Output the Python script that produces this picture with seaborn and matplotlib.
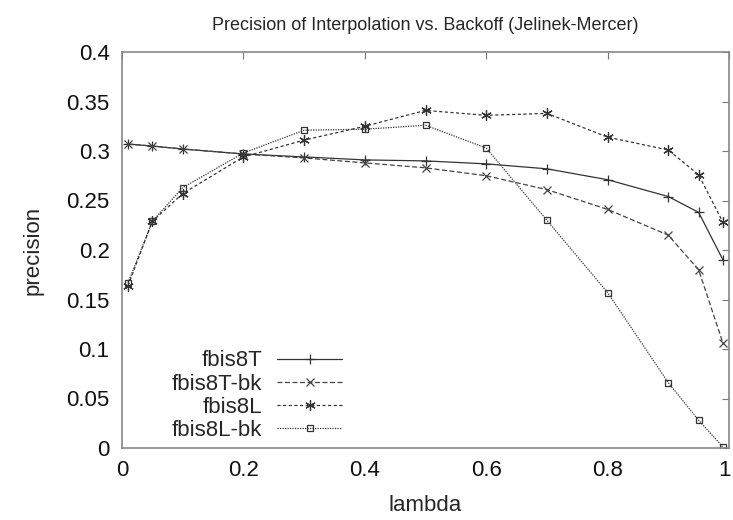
import matplotlib
matplotlib.use("Agg")
import matplotlib.pyplot as plt
import matplotlib.transforms as mtransforms
import seaborn as sns
import pandas as pd

lam = [0.01, 0.05, 0.1, 0.2, 0.3, 0.4, 0.5, 0.6, 0.7, 0.8, 0.9, 0.95, 0.99]
fbis8T = [0.307, 0.305, 0.302, 0.297, 0.294, 0.291, 0.290, 0.287, 0.282, 0.271, 0.254, 0.238, 0.190]
fbis8T_bk = [0.307, 0.305, 0.302, 0.297, 0.293, 0.288, 0.283, 0.275, 0.261, 0.241, 0.215, 0.180, 0.106]
fbis8L = [0.164, 0.229, 0.257, 0.294, 0.311, 0.325, 0.341, 0.336, 0.338, 0.314, 0.301, 0.276, 0.228]
fbis8L_bk = [0.167, 0.229, 0.263, 0.298, 0.321, 0.322, 0.326, 0.303, 0.230, 0.157, 0.066, 0.028, 0.001]

series_names = ["fbis8T", "fbis8T-bk", "fbis8L", "fbis8L-bk"]
series_vals = [fbis8T, fbis8T_bk, fbis8L, fbis8L_bk]
x_ticks = [0, 0.2, 0.4, 0.6, 0.8, 1]
x_tick_labels = ["0", "0.2", "0.4", "0.6", "0.8", "1"]
y_ticks = [0, 0.05, 0.1, 0.15, 0.2, 0.25, 0.3, 0.35, 0.4]
y_tick_labels = ["0", "0.05", "0.1", "0.15", "0.2", "0.25", "0.3", "0.35", "0.4"]

sns.set_style("white")
plt.rcParams['font.family'] = ['Liberation Sans', 'DejaVu Sans']

fig = plt.figure(figsize=(7.33, 5.2), dpi=100)
ax = fig.add_axes([122/733, 72/520, (729-122)/733, (448-52)/520])

styles = [
    dict(marker="+", linestyle="-", markersize=7, color="#333333"),
    dict(marker="x", linestyle=(0, (4, 2)), markersize=5.5, color="#444444"),
    dict(marker=(6, 2, 0), linestyle=(0, (2.5, 2)), markersize=7.5, color="#333333"),
    dict(marker="s", linestyle=(0, (1, 1)), markersize=5, color="#333333", markerfacecolor="none"),
]

for name, vals, st in zip(series_names, series_vals, styles):
    df = pd.DataFrame({"lambda": lam, "precision": vals})
    sns.lineplot(data=df, x="lambda", y="precision", ax=ax, label=name,
                 linewidth=0.9, markeredgewidth=0.9, markeredgecolor=st["color"], **st)

ax.set_xlim(0, 1)
ax.set_ylim(0, 0.4)
ax.set_xticks(x_ticks)
ax.set_xticklabels(x_tick_labels)
ax.set_yticks(y_ticks)
ax.set_yticklabels(y_tick_labels)
ax.tick_params(direction="in", length=5, width=0.8, color="#777777",
               top=True, right=True, labelsize=16, pad=9, labelcolor="#111111")
for sp in ax.spines.values():
    sp.set_color("#888888")
    sp.set_linewidth(1.2)

# keep the "1" label fully inside the canvas
last = ax.get_xticklabels()[-1]
last.set_transform(last.get_transform() + mtransforms.ScaledTranslation(-5/100, 0, fig.dpi_scale_trans))

ax.set_xlabel("lambda", fontsize=16, labelpad=10)
ax.set_ylabel("precision", fontsize=16, labelpad=16)
ax.set_title("Precision of Interpolation vs. Backoff (Jelinek-Mercer)", fontsize=13, pad=16)

leg = ax.legend(loc="lower left", bbox_to_anchor=(0.067, -0.005), frameon=False,
                markerfirst=False, fontsize=16, handlelength=2.9,
                labelspacing=0.1, handletextpad=0.7, borderaxespad=0.0)

fig.savefig("out.png", dpi=100)
